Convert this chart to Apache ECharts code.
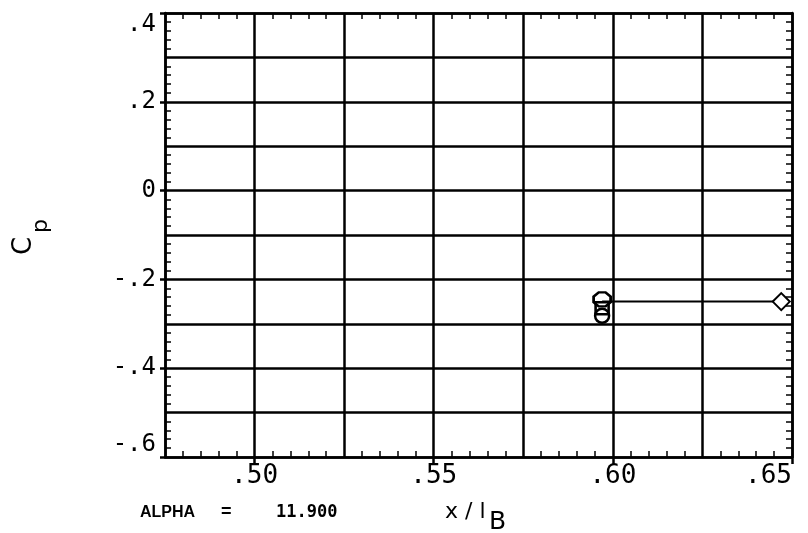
<!DOCTYPE html>
<html>
<head>
<meta charset="utf-8">
<script src="https://cdn.jsdelivr.net/npm/echarts@6/dist/echarts.min.js"></script>
<style>
html,body{margin:0;padding:0;background:#fff;}
#chart{width:808px;height:533px;}
</style>
</head>
<body>
<div id="chart"></div>
<script>
// ---- data ----
const xTickLabels = [0.50, 0.55, 0.60, 0.65];
const yTickLabels = [-0.6, -0.4, -0.2, 0, 0.2, 0.4];
// line with diamond at its end
const lineX = [0.597, 0.647];
const lineY = [-0.250, -0.250];
// hollow symbols stacked near x = .597
const octagonPts = [[0.597, -0.245]];
const squarePts = [[0.597, -0.265]];
const circlePts = [[0.597, -0.282]];
const alphaValue = '11.900';

const chart = echarts.init(document.getElementById('chart'));
const black = '#000';
const mono = '"DejaVu Sans Mono", monospace';
const LW = 2.5;

function fmtX(v){ return Math.abs(v).toFixed(2).slice(1); }
function fmtY(v){
  if (Math.abs(v) < 1e-9) return '0';
  return (v < 0 ? '-' : '') + Math.abs(v).toFixed(1).slice(1);
}

const xBase = {type:'value', min:0.475, max:0.65, interval:0.025, gridIndex:0};
const yBase = {type:'value', min:-0.6, max:0.4, interval:0.1, gridIndex:0};

const minorTick = {show:true, splitNumber:5, length:6, lineStyle:{color:black, width:1.5}};

const lineData = lineX.map((x,i)=> i===0 ? {value:[x,lineY[i]], symbol:'none'} : [x,lineY[i]]);

const option = {
  backgroundColor:'#fff',
  animation:false,
  grid:{left:165, right:16, top:13, bottom:76, outerBoundsMode:'none', containLabel:false},
  xAxis:[
    // frame + grid lines + inward minor ticks (bottom)
    Object.assign({}, xBase, {
      position:'bottom',
      axisLine:{show:true, onZero:false, lineStyle:{color:black, width:LW}},
      axisTick:{show:false, inside:true},
      axisLabel:{show:false},
      splitLine:{show:true, lineStyle:{color:black, width:LW}},
      minorTick: minorTick
    }),
    // labels + outward major ticks (bottom)
    Object.assign({}, xBase, {
      position:'bottom',
      axisLine:{show:false, onZero:false},
      axisTick:{show:true, inside:false, length:7, customValues:xTickLabels, lineStyle:{color:black, width:LW}},
      axisLabel:{show:true, customValues:xTickLabels, formatter:fmtX, margin:6,
        color:black, fontSize:26, fontFamily:mono, alignMaxLabel:'right'},
      splitLine:{show:false},
      minorTick:{show:false}
    }),
    // top frame + inward minor ticks
    Object.assign({}, xBase, {
      position:'top',
      axisLine:{show:true, onZero:false, lineStyle:{color:black, width:LW}},
      axisTick:{show:false, inside:true},
      axisLabel:{show:false},
      splitLine:{show:false},
      minorTick: minorTick
    })
  ],
  yAxis:[
    Object.assign({}, yBase, {
      position:'left',
      axisLine:{show:true, onZero:false, lineStyle:{color:black, width:LW}},
      axisTick:{show:false, inside:true},
      axisLabel:{show:false},
      splitLine:{show:true, lineStyle:{color:black, width:LW}},
      minorTick: minorTick
    }),
    Object.assign({}, yBase, {
      position:'left',
      axisLine:{show:false, onZero:false},
      axisTick:{show:true, inside:false, length:5, customValues:yTickLabels, lineStyle:{color:black, width:LW}},
      axisLabel:{show:true, customValues:yTickLabels, formatter:fmtY, margin:9,
        color:black, fontSize:24, fontFamily:mono,
        verticalAlignMaxLabel:'top', verticalAlignMinLabel:'bottom'},
      splitLine:{show:false},
      minorTick:{show:false}
    }),
    Object.assign({}, yBase, {
      position:'right',
      axisLine:{show:true, onZero:false, lineStyle:{color:black, width:LW}},
      axisTick:{show:false, inside:true},
      axisLabel:{show:false},
      splitLine:{show:false},
      minorTick: minorTick
    })
  ],
  series:[
    {
      type:'line', xAxisIndex:0, yAxisIndex:0,
      data: lineData,
      symbol:'diamond', symbolSize:[17,17],
      lineStyle:{color:black, width:2},
      itemStyle:{color:'#fff', borderColor:black, borderWidth:2, opacity:1},
      z:3
    },
    {
      type:'scatter', xAxisIndex:0, yAxisIndex:0,
      data: octagonPts,
      symbol:'path://M30,0 L70,0 L100,30 L100,70 L70,100 L30,100 L0,70 L0,30 Z',
      symbolSize:[17,14],
      itemStyle:{color:'rgba(255,255,255,0)', borderColor:black, borderWidth:2.5, opacity:1},
      z:4
    },
    {
      type:'scatter', xAxisIndex:0, yAxisIndex:0,
      data: squarePts,
      symbol:'rect', symbolSize:[13,12],
      itemStyle:{color:'rgba(255,255,255,0)', borderColor:black, borderWidth:2.5, opacity:1},
      z:4
    },
    {
      type:'scatter', xAxisIndex:0, yAxisIndex:0,
      data: circlePts,
      symbol:'circle', symbolSize:14,
      itemStyle:{color:'rgba(255,255,255,0)', borderColor:black, borderWidth:2.5, opacity:1},
      z:4
    }
  ],
  graphic:[
    {type:'text', x:140, y:513, style:{text:'ALPHA', font:'bold 16px "Liberation Sans", sans-serif', fill:black, align:'left', verticalAlign:'middle'}},
    {type:'text', x:221, y:512, style:{text:'=', font:'bold 18px "Liberation Sans", sans-serif', fill:black, align:'left', verticalAlign:'middle'}},
    {type:'text', x:276, y:513, style:{text:alphaValue, font:'bold 17px "DejaVu Sans Mono", monospace', fill:black, align:'left', verticalAlign:'middle'}},
    {type:'text', x:445, y:512, style:{text:'x / l', font:'22px "DejaVu Sans", sans-serif', fill:black, align:'left', verticalAlign:'middle'}},
    {type:'text', x:489, y:522, style:{text:'B', font:'25px "DejaVu Sans", sans-serif', fill:black, align:'left', verticalAlign:'middle'}},
    {type:'text', x:24, y:246, rotation:Math.PI/2, style:{text:'C', font:'26px "DejaVu Sans", sans-serif', fill:black, align:'center', verticalAlign:'middle'}},
    {type:'text', x:41, y:226, rotation:Math.PI/2, style:{text:'p', font:'22px "DejaVu Sans", sans-serif', fill:black, align:'center', verticalAlign:'middle'}}
  ]
};
chart.setOption(option);
</script>
</body>
</html>
